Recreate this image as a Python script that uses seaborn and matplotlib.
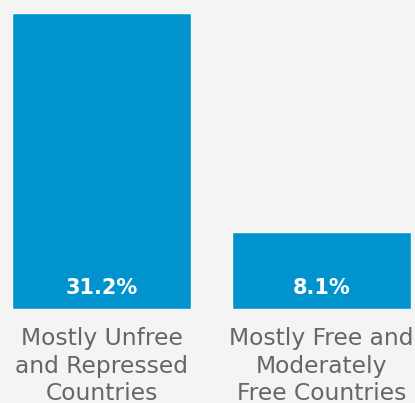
import matplotlib
matplotlib.use("Agg")
import matplotlib.pyplot as plt
import seaborn as sns
import pandas as pd

categories = ["Mostly Unfree\nand Repressed\nCountries", "Mostly Free and\nModerately\nFree Countries"]
values = [31.2, 8.1]
value_labels = ["31.2%", "8.1%"]

bg = "#f4f4f4"
blue = "#0093cd"
gray = "#666666"

sns.set_style("white")
plt.rcParams['font.family'] = ['DejaVu Sans']

df = pd.DataFrame({"cat": categories, "val": values})

fig = plt.figure(figsize=(4.15, 4.03), dpi=100, facecolor=bg)
ax = fig.add_axes([12 / 415, (403 - 309) / 403, 399 / 415, 296 / 403])
ax.set_facecolor(bg)

sns.barplot(data=df, x="cat", y="val", color=blue, saturation=1, width=179 / 220, ax=ax)

ax.set_xlim(-0.407, 1.407)
ax.set_ylim(0, 31.2)
for s in ax.spines.values():
    s.set_visible(False)
ax.set_yticks([])
ax.set_xlabel("")
ax.set_ylabel("")
ax.tick_params(axis="x", length=0, pad=13)
for t in ax.get_xticklabels():
    t.set_fontsize(16.8)
    t.set_color(gray)
    t.set_linespacing(1.26)

# bold value labels inside the bars, near the base
for i, lab in enumerate(value_labels):
    ax.annotate(lab, xy=(i, 0), xytext=(0, 15), textcoords="offset points",
                ha="center", va="center", color="white", fontsize=15,
                fontweight="bold")

fig.savefig("out.png", dpi=100, facecolor=bg)
